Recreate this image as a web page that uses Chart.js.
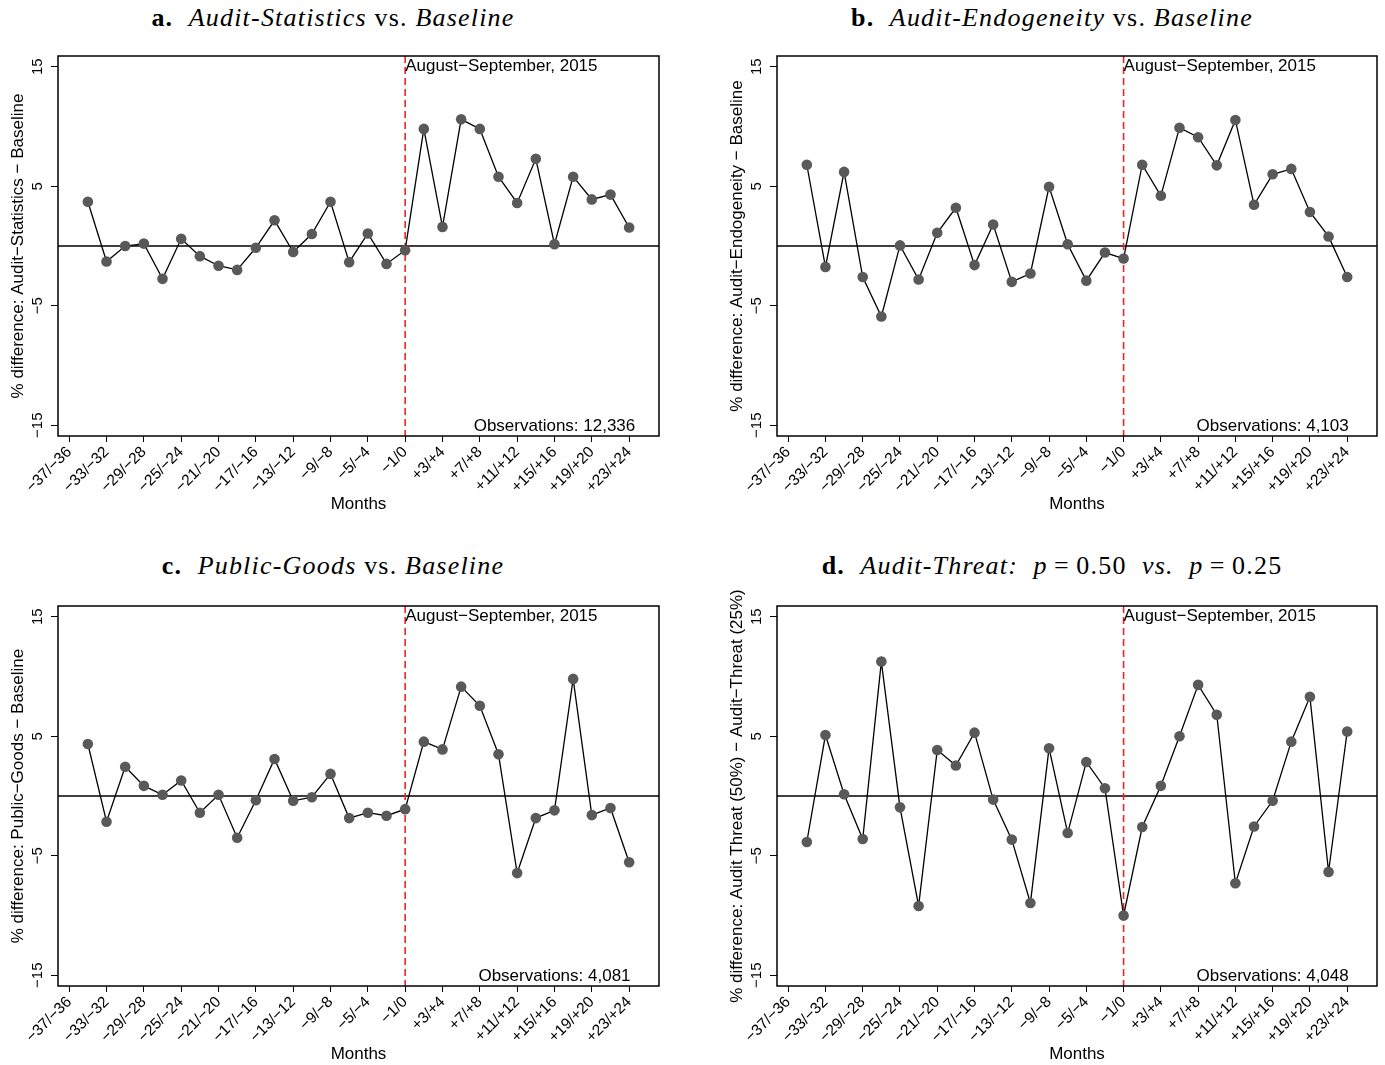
<!DOCTYPE html>
<html>
<head>
<meta charset="utf-8">
<script src="https://cdn.jsdelivr.net/npm/chart.js@4.4.0/dist/chart.umd.min.js"></script>
<style>
  html, body { margin: 0; padding: 0; background: #fff; }
  body { width: 1385px; height: 1065px; position: relative; overflow: hidden; }
  .panel-title {
    position: absolute; width: 666px; text-align: center;
    font-family: "Liberation Serif", "Times New Roman", serif;
    font-size: 26px; line-height: 30px; color: #000;
    white-space: nowrap; letter-spacing: 1.2px;
  }
  .box { position: absolute; }
  canvas { display: block; }
</style>
</head>
<body>

<div class="panel-title" style="left:0;top:3px"><b>a.</b>&nbsp; <i>Audit-Statistics</i> vs. <i>Baseline</i></div>
<div class="panel-title" style="left:719px;top:3px"><b>b.</b>&nbsp; <i>Audit-Endogeneity</i> vs. <i>Baseline</i></div>
<div class="panel-title" style="left:0;top:551px"><b>c.</b>&nbsp; <i>Public-Goods</i> vs. <i>Baseline</i></div>
<div class="panel-title" style="left:719px;top:551px"><b>d.</b>&nbsp; <i>Audit-Threat:</i>&nbsp; <i>p</i>&thinsp;=&thinsp;0.50&nbsp; <i>vs.</i>&nbsp; <i>p</i>&thinsp;=&thinsp;0.25</div>

<div class="box" style="left:0;top:38px"><canvas id="chartA" width="692" height="511"></canvas></div>
<div class="box" style="left:719px;top:38px"><canvas id="chartB" width="666" height="511"></canvas></div>
<div class="box" style="left:0;top:588px"><canvas id="chartC" width="692" height="477"></canvas></div>
<div class="box" style="left:719px;top:588px"><canvas id="chartD" width="666" height="477"></canvas></div>

<script>
// ========== DATA ==========

// two-month bins, −37/−36 ... +23/+24 (index 0..30)
const months = [
    '−37/−36', '−35/−34', '−33/−32', '−31/−30', '−29/−28', '−27/−26', '−25/−24', '−23/−22',
    '−21/−20', '−19/−18', '−17/−16', '−15/−14', '−13/−12', '−11/−10', '−9/−8', '−7/−6',
    '−5/−4', '−3/−2', '−1/0', '+1/+2', '+3/+4', '+5/+6', '+7/+8', '+9/+10',
    '+11/+12', '+13/+14', '+15/+16', '+17/+18', '+19/+20', '+21/+22', '+23/+24'
];
// labelled ticks every second bin
const xTickIdx = [0, 2, 4, 6, 8, 10, 12, 14, 16, 18, 20, 22, 24, 26, 28, 30];
const yTicks = [-15, -5, 5, 15];

// series start at −35/−34 (index 1)
const firstIdx = 1;
const eventIdx = 18;   // −1/0  -> August–September 2015
const obsIdx = 26;     // where the "Observations" note is centred

const auditStats = [3.7, -1.3, 0.0, 0.2, -2.75, 0.6, -0.85, -1.65, -2.0, -0.15, 2.15, -0.5, 1.0, 3.7, -1.35,
    1.05, -1.5, -0.35, 9.8, 1.6, 10.6, 9.8, 5.8, 3.6, 7.3, 0.15, 5.8, 3.9, 4.3, 1.55];
const auditEndog = [6.8, -1.75, 6.2, -2.6, -5.9, 0.05, -2.8, 1.1, 3.2, -1.6, 1.8, -3.0, -2.3, 4.95, 0.15,
    -2.9, -0.55, -1.05, 6.8, 4.2, 9.9, 9.1, 6.75, 10.55, 3.45, 6.0, 6.45, 2.85, 0.8, -2.6];
const publicGoods = [4.35, -2.15, 2.45, 0.85, 0.1, 1.3, -1.4, 0.1, -3.5, -0.35, 3.1, -0.4, -0.1, 1.85, -1.85,
    -1.4, -1.65, -1.1, 4.55, 3.9, 9.15, 7.55, 3.5, -6.45, -1.85, -1.2, 9.8, -1.6, -1.0, -5.55];
const auditThreat = [-3.85, 5.1, 0.15, -3.6, 11.25, -0.95, -9.2, 3.85, 2.55, 5.3, -0.3, -3.65, -8.95, 4.0, -3.1,
    2.85, 0.65, -10.0, -2.6, 0.85, 5.0, 9.3, 6.8, -7.3, -2.55, -0.4, 4.55, 8.3, -6.35, 5.4];

const yTitles = [
    '% difference: Audit−Statistics − Baseline',
    '% difference: Audit−Endogeneity − Baseline',
    '% difference: Public−Goods − Baseline',
    '% difference: Audit Threat (50%) − Audit−Threat (25%)'
];
const obsNotes = ['Observations: 12,336', 'Observations: 4,103', 'Observations: 4,081', 'Observations: 4,048'];
const eventNote = 'August−September, 2015';

// ========== STYLE ==========

const SANS = '"Liberation Sans", Arial, Helvetica, sans-serif';
const RED = 'rgb(236, 38, 38)';

/**
 * Marco, línea de cero, línea del evento y notas
 */
const panelDecor = {
    id: 'panelDecor',
    beforeDatasetsDraw(chart) {
        const { ctx, chartArea: a, scales: { x, y } } = chart;
        ctx.save();
        const y0 = y.getPixelForValue(0);
        ctx.strokeStyle = '#000';
        ctx.lineWidth = 1.5;
        ctx.beginPath();
        ctx.moveTo(a.left, y0);
        ctx.lineTo(a.right, y0);
        ctx.stroke();

        const xe = x.getPixelForValue(eventIdx);
        ctx.strokeStyle = RED;
        ctx.lineWidth = 1.6;
        ctx.setLineDash([7, 4]);
        ctx.beginPath();
        ctx.moveTo(xe, a.top);
        ctx.lineTo(xe, a.bottom);
        ctx.stroke();
        ctx.restore();
    },
    afterDraw(chart, args, opts) {
        const { ctx, chartArea: a, scales: { x, y } } = chart;
        ctx.save();
        ctx.strokeStyle = '#000';
        ctx.lineWidth = 1.5;
        ctx.strokeRect(a.left, a.top, a.right - a.left, a.bottom - a.top);

        ctx.fillStyle = '#000';
        ctx.font = '17px ' + SANS;
        ctx.textBaseline = 'middle';
        ctx.textAlign = 'left';
        ctx.fillText(eventNote, x.getPixelForValue(eventIdx), y.getPixelForValue(15));
        ctx.textAlign = 'center';
        ctx.fillText(opts.obs, x.getPixelForValue(obsIdx), y.getPixelForValue(-15) + 1);
        ctx.restore();
    }
};

function makePanel(canvasId, values, yTitle, obs, padRight, padBottom) {
    return new Chart(document.getElementById(canvasId), {
        type: 'line',
        data: {
            datasets: [{
                data: values.map((v, i) => ({ x: firstIdx + i, y: v })),
                borderColor: '#000',
                borderWidth: 1.3,
                tension: 0,
                pointRadius: 5.3,
                pointBackgroundColor: '#595959',
                pointBorderWidth: 0,
                fill: false
            }]
        },
        options: {
            responsive: false,
            animation: false,
            events: [],
            layout: { padding: { top: 18, right: padRight, bottom: padBottom, left: 0 } },
            plugins: {
                legend: { display: false },
                tooltip: { enabled: false },
                panelDecor: { obs: obs }
            },
            scales: {
                x: {
                    type: 'linear',
                    min: -0.6,
                    max: 31.6,
                    afterBuildTicks: s => { s.ticks = xTickIdx.map(v => ({ value: v })); },
                    afterFit: s => { s.height = 79; },
                    ticks: {
                        autoSkip: false,
                        minRotation: 45,
                        maxRotation: 45,
                        padding: 1,
                        color: '#000',
                        font: { family: SANS, size: 15.5 },
                        callback: v => months[v]
                    },
                    grid: { drawOnChartArea: false, tickLength: 6, color: '#000', lineWidth: 1 },
                    border: { display: false },
                    title: {
                        display: true,
                        text: 'Months',
                        color: '#000',
                        font: { family: SANS, size: 17 },
                        padding: { top: 0, bottom: 0 }
                    }
                },
                y: {
                    min: -15.9,
                    max: 15.9,
                    afterBuildTicks: s => { s.ticks = yTicks.map(v => ({ value: v })); },
                    afterFit: s => { s.width = 58; },
                    ticks: {
                        minRotation: 90,
                        maxRotation: 90,
                        crossAlign: 'center',
                        padding: 0,
                        color: '#000',
                        font: { family: SANS, size: 15 },
                        callback: v => (v < 0 ? '−' + Math.abs(v) : String(v))
                    },
                    grid: { drawOnChartArea: false, tickLength: 7, color: '#000', lineWidth: 1 },
                    border: { display: false },
                    title: {
                        display: true,
                        text: yTitle,
                        color: '#000',
                        font: { family: SANS, size: 17 },
                        padding: { top: 8, bottom: 0 }
                    }
                }
            }
        },
        plugins: [panelDecor]
    });
}

makePanel('chartA', auditStats, yTitles[0], obsNotes[0], 33, 34);
makePanel('chartB', auditEndog, yTitles[1], obsNotes[1], 8, 34);
makePanel('chartC', publicGoods, yTitles[2], obsNotes[2], 33, 0);
makePanel('chartD', auditThreat, yTitles[3], obsNotes[3], 8, 0);
</script>
</body>
</html>
